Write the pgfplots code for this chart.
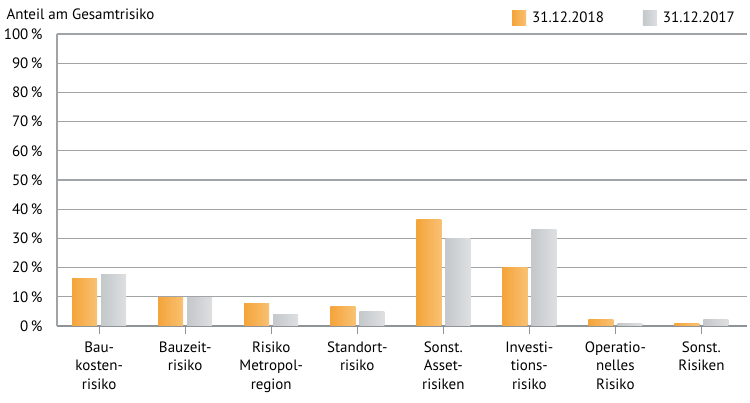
\documentclass[border=0pt]{standalone}
\usepackage{fontspec}
\setmainfont{PT Sans}
\usepackage{pgfplots}
\pgfplotsset{compat=1.18}
\definecolor{orL}{HTML}{F4A43A}
\definecolor{orR}{HTML}{F9C173}
\definecolor{grL}{HTML}{C4C8CB}
\definecolor{grR}{HTML}{DDDFE1}
\definecolor{gridc}{HTML}{A0A4A7}
\definecolor{axc}{HTML}{8E9397}
\definecolor{txt}{HTML}{1A1A1A}
\pgfplotsset{
  ob/.style={draw=none, left color=orL, right color=orR, bar shift=-14.5pt},
  gb/.style={draw=none, left color=grL, right color=grR, bar shift=14.5pt},
}
\begin{document}
\begin{tikzpicture}[font=\fontsize{15}{18.5}\selectfont\color{txt}]
\begin{axis}[
  at={(0,0)}, anchor=south west,
  scale only axis, width=690pt, height=292pt,
  ymin=0, ymax=100, xmin=-0.49, xmax=7.53,
  ybar, bar width=25pt,
  ytick={0,10,...,100},
  yticklabel={\pgfmathprintnumber{\tick}\,\%},
  /pgf/number format/assume math mode=true,
  ymajorgrids, grid style={gridc, line width=1.3pt},
  ytick style={draw=none},
  xtick={0,...,7},
  xticklabels={Bau-\\kosten-\\risiko, Bauzeit-\\risiko, Risiko\\Metropol-\\region, Standort-\\risiko, Sonst.\\Asset-\\risiken, Investi-\\tions-\\risiko, Operatio-\\nelles\\Risiko, Sonst.\\Risiken},
  xticklabel style={align=center, font=\fontsize{15}{18.5}\selectfont, yshift=-4pt},
  x tick style={axc, line width=1.3pt}, tick align=outside, major tick length=8pt,
  axis x line*=bottom, axis y line*=left,
  x axis line style={axc, line width=2pt, -},
  y axis line style={gridc, line width=1.3pt, -},
  yticklabel style={font=\fontsize{15}{18}\selectfont, xshift=-3pt},
  legend style={draw=none, fill=none, at={(1,1)}, anchor=south east, xshift=-7pt, yshift=6pt,
    font=\fontsize{15}{18}\selectfont, /tikz/every even column/.append style={column sep=37pt}},
  legend columns=2,
  legend image code/.code={\path[#1, draw=none] (0pt,-7.5pt) rectangle (14pt,7.5pt);},
  legend cell align=left,
  clip=false,
]
\addplot[ob] coordinates {(0,16.3)};
\addlegendentry{\hspace{4pt}31.12.2018}
\addplot[gb] coordinates {(0,17.8)};
\addlegendentry{\hspace{4pt}31.12.2017}
\addplot[ob, forget plot] coordinates {(1,9.9)};
\addplot[ob, forget plot] coordinates {(2,7.8)};
\addplot[ob, forget plot] coordinates {(3,6.6)};
\addplot[ob, forget plot] coordinates {(4,36.6)};
\addplot[ob, forget plot] coordinates {(5,20.0)};
\addplot[ob, forget plot] coordinates {(6,2.3)};
\addplot[ob, forget plot] coordinates {(7,1.0)};
\addplot[gb, forget plot] coordinates {(1,9.9)};
\addplot[gb, forget plot] coordinates {(2,3.8)};
\addplot[gb, forget plot] coordinates {(3,4.9)};
\addplot[gb, forget plot] coordinates {(4,29.8)};
\addplot[gb, forget plot] coordinates {(5,33.2)};
\addplot[gb, forget plot] coordinates {(6,0.9)};
\addplot[gb, forget plot] coordinates {(7,2.3)};
\end{axis}
\node[anchor=west, font=\fontsize{15}{18}\selectfont] at (-54pt,312pt) {Anteil am Gesamtrisiko};
\path[use as bounding box] (-57pt,-77pt) rectangle (693pt,326pt);
\end{tikzpicture}
\end{document}
